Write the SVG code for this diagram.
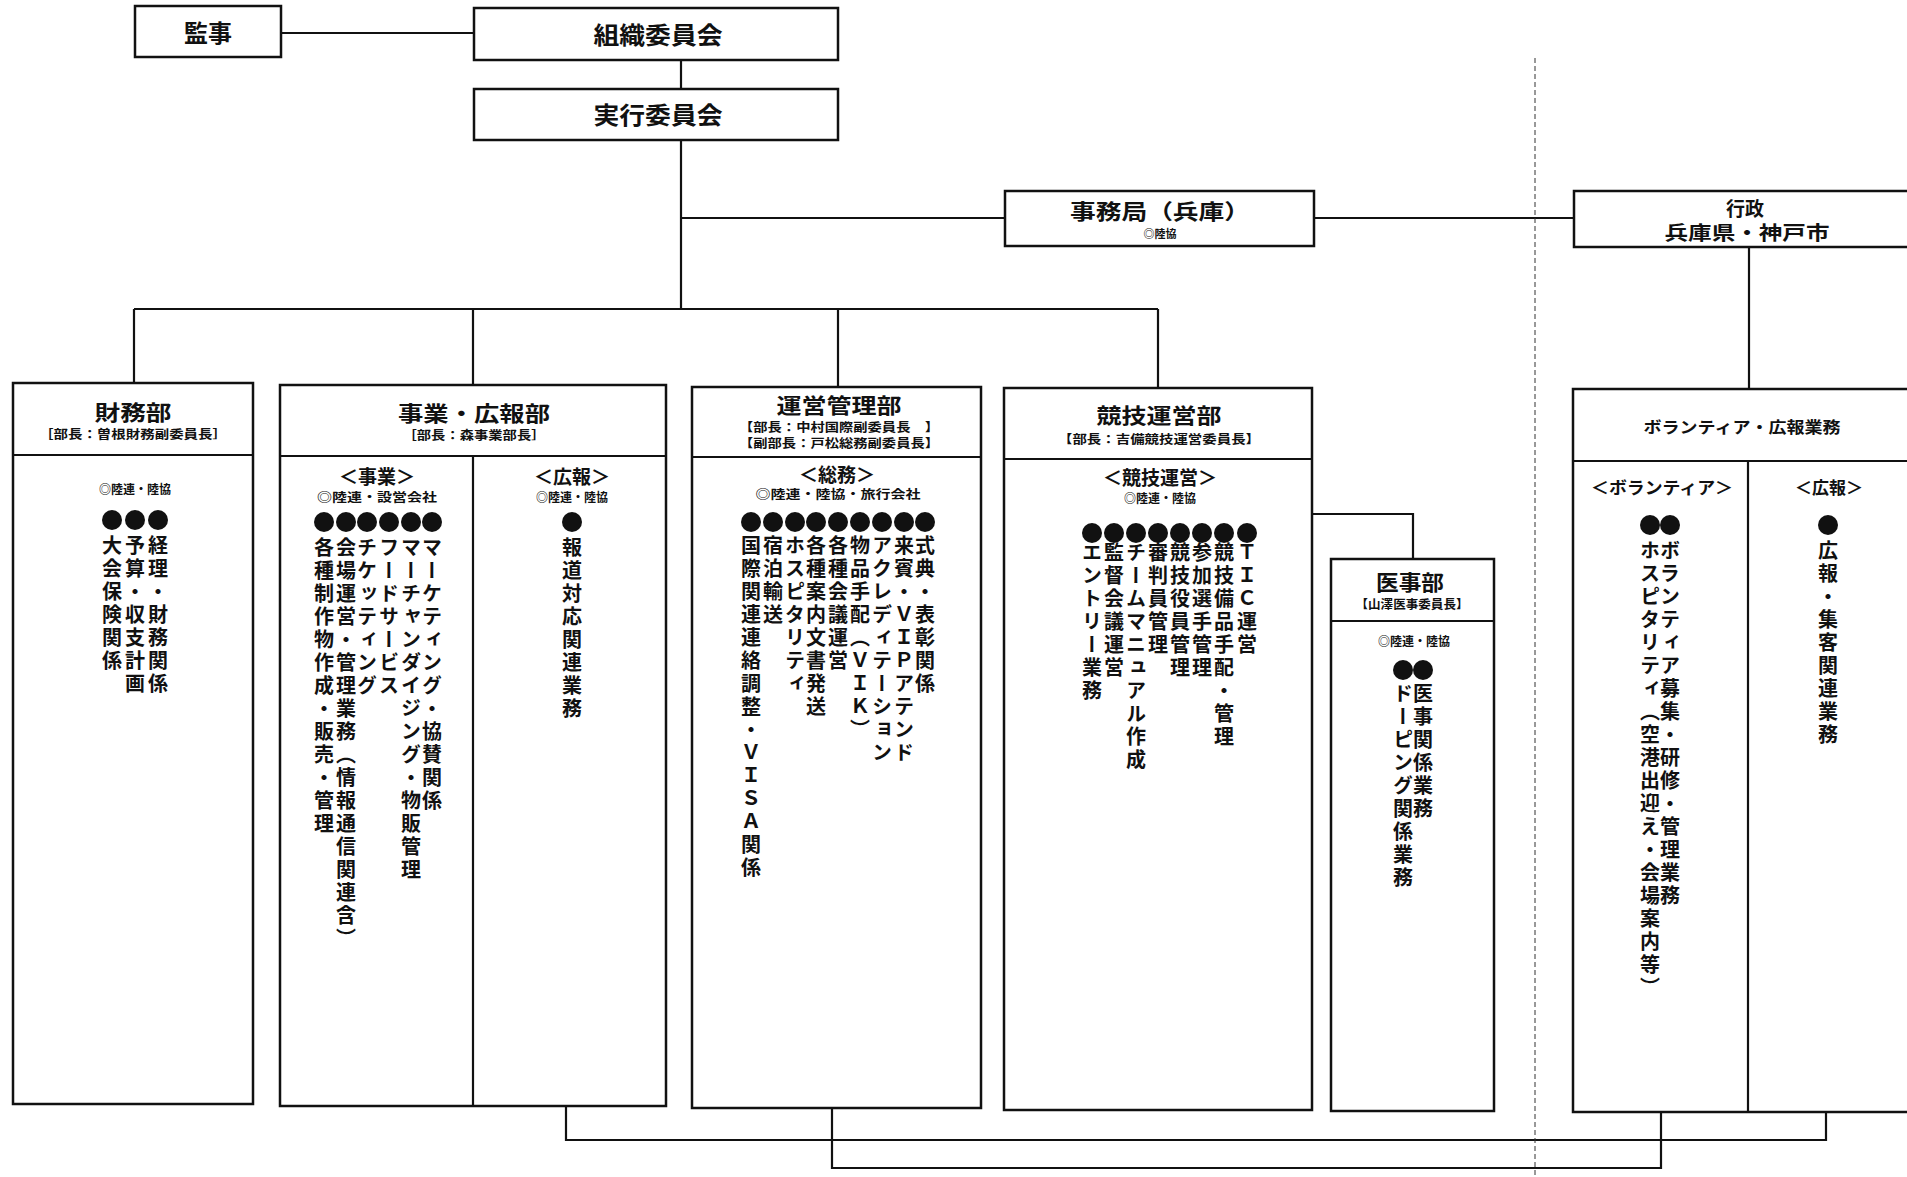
<svg xmlns="http://www.w3.org/2000/svg" width="1907" height="1177" viewBox="0 0 1907 1177">
<style>
text{font-family:"Noto Sans CJK JP","Noto Sans CJK SC",sans-serif;font-weight:bold;fill:#111}
.box{fill:#fff;stroke:#111;stroke-width:2.5}
.ln{fill:none;stroke:#111;stroke-width:2.2}
.h{dominant-baseline:central;text-anchor:middle}
.t1{font-size:24px}
.t2{font-size:21px}
.sub{font-size:12px}
.sec{font-size:19px}
.v{writing-mode:vertical-rl;font-size:20px;letter-spacing:3px}
.dot{fill:#111}
</style>
<rect width="1907" height="1177" fill="#fff"/>
<g id="connectors">
<path class="ln" d="M281 33H474"/>
<path class="ln" d="M681 60V89"/>
<path class="ln" d="M681 140V309"/>
<path class="ln" d="M681 218H1005"/>
<path class="ln" d="M1314 218H1574"/>
<path class="ln" d="M1749 247V389"/>
<path class="ln" d="M134 309H1158"/>
<path class="ln" d="M134 309V383M473 309V385M838 309V387M1158 309V388"/>
<path class="ln" d="M1312 514H1413V559"/>
<path class="ln" d="M566 1106V1140H1826V1112"/>
<path class="ln" d="M832 1108V1168H1661V1112"/>
<path d="M1535 58V1177" fill="none" stroke="#333" stroke-width="1" stroke-dasharray="5 3"/>
</g>
<g id="kanji">
<rect class="box" x="135" y="6" width="146" height="51"/>
<text class="h t1" x="208" y="31">監事</text>
</g>
<g id="soshiki">
<rect class="box" x="474" y="8" width="364" height="52"/>
<text class="h t1" x="658" y="33" textLength="129" lengthAdjust="spacingAndGlyphs">組織委員会</text>
</g>
<g id="jikkou">
<rect class="box" x="474" y="89" width="364" height="51"/>
<text class="h t1" x="658" y="113" textLength="129" lengthAdjust="spacingAndGlyphs">実行委員会</text>
</g>
<g id="jimukyoku">
<rect class="box" x="1005" y="191" width="309" height="55"/>
<text class="h" x="1160" y="210" font-size="21" textLength="180" lengthAdjust="spacingAndGlyphs">事務局（兵庫）</text>
<text class="h" x="1160" y="233" font-size="11">◎陸協</text>
</g>
<g id="gyosei">
<rect class="box" x="1574" y="191" width="340" height="56"/>
<text class="h" x="1745" y="207" font-size="19">行政</text>
<text class="h" x="1747" y="231" font-size="19" textLength="165" lengthAdjust="spacingAndGlyphs">兵庫県・神戸市</text>
</g>
<g id="zaimu">
<rect class="box" x="13" y="383" width="240" height="721"/>
<path class="ln" d="M13 455H253"/>
<text class="h t2" x="133" y="411" textLength="77" lengthAdjust="spacingAndGlyphs">財務部</text>
<text class="h sub" x="133" y="433" textLength="188" lengthAdjust="spacingAndGlyphs">［部長：曽根財務副委員長］</text>
<text class="h sub" x="135" y="488" font-size="13">◎陸連・陸協</text>
<circle class="dot" cx="112" cy="520" r="10"/><circle class="dot" cx="135" cy="520" r="10"/><circle class="dot" cx="158" cy="520" r="10"/>
<text class="v" x="112" y="535">大会保険関係</text>
<text class="v" x="135" y="535">予算・収支計画</text>
<text class="v" x="158" y="535">経理・財務関係</text>
</g>
<g id="jigyo">
<rect class="box" x="280" y="385" width="386" height="721"/>
<path class="ln" d="M280 456H666M473 456V1106"/>
<text class="h t2" x="474" y="412" textLength="152" lengthAdjust="spacingAndGlyphs">事業・広報部</text>
<text class="h sub" x="474" y="434" textLength="143" lengthAdjust="spacingAndGlyphs">［部長：森事業部長］</text>
<text class="h sec" x="377" y="475">＜事業＞</text>
<text class="h sub" x="377" y="496" textLength="120" lengthAdjust="spacingAndGlyphs">◎陸連・設営会社</text>
<text class="h sec" x="572" y="475">＜広報＞</text>
<text class="h sub" x="572" y="496">◎陸連・陸協</text>
<circle class="dot" cx="324" cy="522" r="10"/><circle class="dot" cx="346" cy="522" r="10"/><circle class="dot" cx="367" cy="522" r="10"/><circle class="dot" cx="389" cy="522" r="10"/><circle class="dot" cx="411" cy="522" r="10"/><circle class="dot" cx="432" cy="522" r="10"/>
<circle class="dot" cx="572" cy="522" r="10"/>
<text class="v" x="324" y="537">各種制作物作成・販売・管理</text>
<text class="v" x="346" y="537">会場運営・管理業務（情報通信関連含）</text>
<text class="v" x="367" y="537">チケッティング</text>
<text class="v" x="389" y="537">フードサービス</text>
<text class="v" x="411" y="537">マーチャンダイジング・物販管理</text>
<text class="v" x="432" y="537">マーケティング・協賛関係</text>
<text class="v" x="572" y="537">報道対応関連業務</text>
</g>
<g id="unei">
<rect class="box" x="692" y="387" width="289" height="721"/>
<path class="ln" d="M692 457H981"/>
<text class="h t2" x="839" y="404" textLength="125" lengthAdjust="spacingAndGlyphs">運営管理部</text>
<text class="h sub" x="839" y="426" textLength="200" lengthAdjust="spacingAndGlyphs">【部長：中村国際副委員長　】</text>
<text class="h sub" x="839" y="442" textLength="200" lengthAdjust="spacingAndGlyphs">【副部長：戸松総務副委員長】</text>
<text class="h sec" x="837" y="473">＜総務＞</text>
<text class="h sub" x="838" y="493" textLength="165" lengthAdjust="spacingAndGlyphs">◎陸連・陸協・旅行会社</text>
<circle class="dot" cx="751" cy="522" r="10"/><circle class="dot" cx="773" cy="522" r="10"/><circle class="dot" cx="795" cy="522" r="10"/><circle class="dot" cx="816" cy="522" r="10"/><circle class="dot" cx="838" cy="522" r="10"/><circle class="dot" cx="860" cy="522" r="10"/><circle class="dot" cx="882" cy="522" r="10"/><circle class="dot" cx="904" cy="522" r="10"/><circle class="dot" cx="925" cy="522" r="10"/>
<text class="v" x="751" y="535">国際関連連絡調整・ＶＩＳＡ関係</text>
<text class="v" x="773" y="535">宿泊輸送</text>
<text class="v" x="795" y="535">ホスピタリティ</text>
<text class="v" x="816" y="535">各種案内文書発送</text>
<text class="v" x="838" y="535">各種会議運営</text>
<text class="v" x="860" y="535">物品手配（ＶＩＫ）</text>
<text class="v" x="882" y="535">アクレディテーション</text>
<text class="v" x="904" y="535">来賓・ＶＩＰアテンド</text>
<text class="v" x="925" y="535">式典・表彰関係</text>
</g>
<g id="kyogi">
<rect class="box" x="1004" y="388" width="308" height="722"/>
<path class="ln" d="M1004 459H1312"/>
<text class="h t2" x="1159" y="414" textLength="125" lengthAdjust="spacingAndGlyphs">競技運営部</text>
<text class="h sub" x="1159" y="438" textLength="202" lengthAdjust="spacingAndGlyphs">【部長：吉備競技運営委員長】</text>
<text class="h sec" x="1160" y="476">＜競技運営＞</text>
<text class="h sub" x="1160" y="497">◎陸連・陸協</text>
<circle class="dot" cx="1092" cy="533" r="10"/><circle class="dot" cx="1114" cy="533" r="10"/><circle class="dot" cx="1136" cy="533" r="10"/><circle class="dot" cx="1158" cy="533" r="10"/><circle class="dot" cx="1180" cy="533" r="10"/><circle class="dot" cx="1202" cy="533" r="10"/><circle class="dot" cx="1224" cy="533" r="10"/><circle class="dot" cx="1247" cy="533" r="10"/>
<text class="v" x="1092" y="542">エントリー業務</text>
<text class="v" x="1114" y="542">監督会議運営</text>
<text class="v" x="1136" y="542">チームマニュアル作成</text>
<text class="v" x="1158" y="542">審判員管理</text>
<text class="v" x="1180" y="542">競技役員管理</text>
<text class="v" x="1202" y="542">参加選手管理</text>
<text class="v" x="1224" y="542">競技備品手配・管理</text>
<text class="v" x="1247" y="542">ＴＩＣ運営</text>
</g>
<g id="iji">
<rect class="box" x="1331" y="559" width="163" height="552"/>
<path class="ln" d="M1331 621H1494"/>
<text class="h t2" x="1410" y="581" textLength="68" lengthAdjust="spacingAndGlyphs">医事部</text>
<text class="h" x="1412" y="603" font-size="12" textLength="113" lengthAdjust="spacingAndGlyphs">【山澤医事委員長】</text>
<text class="h" x="1414" y="640" font-size="12">◎陸連・陸協</text>
<circle class="dot" cx="1403" cy="670" r="10"/><circle class="dot" cx="1423" cy="670" r="10"/>
<text class="v" x="1403" y="683">ドーピング関係業務</text>
<text class="v" x="1423" y="683">医事関係業務</text>
</g>
<g id="volunteer">
<rect class="box" x="1573" y="389" width="345" height="723"/>
<path class="ln" d="M1573 461H1907M1748 461V1112"/>
<text class="h" x="1742" y="426" font-size="16" textLength="197" lengthAdjust="spacingAndGlyphs">ボランティア・広報業務</text>
<text class="h" x="1662" y="486" font-size="17" textLength="142" lengthAdjust="spacingAndGlyphs">＜ボランティア＞</text>
<text class="h" x="1829" y="486" font-size="17">＜広報＞</text>
<circle class="dot" cx="1650" cy="525" r="10"/><circle class="dot" cx="1670" cy="525" r="10"/>
<circle class="dot" cx="1828" cy="525" r="10"/>
<text class="v" x="1650" y="540">ホスピタリティ（空港出迎え・会場案内等）</text>
<text class="v" x="1670" y="540">ボランティア募集・研修・管理業務</text>
<text class="v" x="1828" y="540">広報・集客関連業務</text>
</g>
</svg>
